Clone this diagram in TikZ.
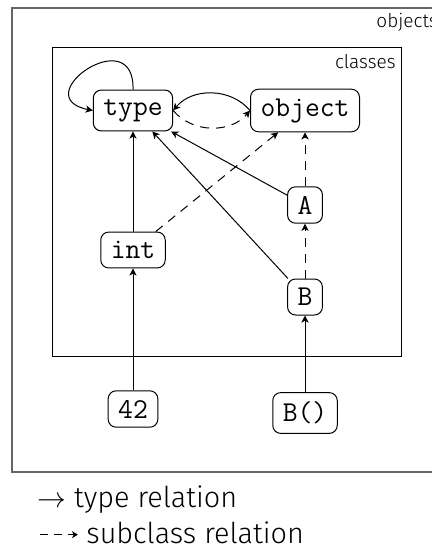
\documentclass[tikz,border=0pt]{standalone}
\usepackage{fontspec}
\setmainfont{Fira Sans}[UprightFont=* Light]
\usetikzlibrary{arrows.meta}
\tikzset{
  obj/.style={draw, rounded corners=4pt, font=\ttfamily\Large, inner xsep=5pt, inner ysep=4.6pt, line width=0.5pt},
  typerel/.style={-{Stealth[length=3.6pt,width=3.6pt,inset=1pt]}, line width=0.5pt},
  subrel/.style={typerel, dashed, dash pattern=on 4.5pt off 3.5pt},
  boxlbl/.style={font=\fontsize{9.5}{11}\selectfont, inner sep=0pt},
  legend/.style={font=\fontsize{14.4}{17}\selectfont, anchor=west, inner sep=0pt}
}
\begin{document}
\begin{tikzpicture}[x=0.5pt,y=-0.5pt]
\useasboundingbox (0,0) rectangle (432,551);
\clip (0,0) rectangle (432,551);
% boxes
\draw[black!60, line width=0.8pt] (12,8) rectangle (460,472);
\node[boxlbl, anchor=west] (objlbl) at (376,22) {objects};
\draw[line width=0.5pt] (52,48) rectangle (401,356);
\node[boxlbl, anchor=east] (clslbl) at (396,62) {classes};
% nodes
\node[obj] (type) at (133,110.5) {type};
\node[obj] (object) at (305,110.5) {object};
\node[obj] (A) at (305,205) {A};
\node[obj] (int) at (133,250) {int};
\node[obj] (B) at (305,297) {B};
\node[obj] (n42) at (133,409) {42};
\node[obj] (Bi) at (305,413) {B()};
% connectors
\draw[typerel] (type.north) .. controls (135,20) and (25,97) .. (type.west);
\draw[typerel] (object.west) to[bend right=50] (type.east);
\draw[subrel] (type.east) to[bend right=50] (object.west);
\draw[typerel] (int) -- (type);
\draw[typerel] (A) -- (type);
\draw[typerel] (B) -- (type);
\draw[subrel] (int) -- (object);
\draw[subrel] (A) -- (object);
\draw[subrel] (B) -- (A);
\draw[typerel] (n42) -- (int);
\draw[typerel] (Bi) -- (B);
% legend
\node[legend] (leg1) at (37,500) {$\to$ type relation};
\node[legend] (leg2) at (39,533) {\tikz[baseline=-0.6ex]\draw[dash pattern=on 4pt off 3pt, -{Stealth[length=3pt,width=3.5pt]}, line width=0.5pt] (0pt,0pt) -- (19pt,0pt);\ subclass relation};
\end{tikzpicture}
\end{document}
